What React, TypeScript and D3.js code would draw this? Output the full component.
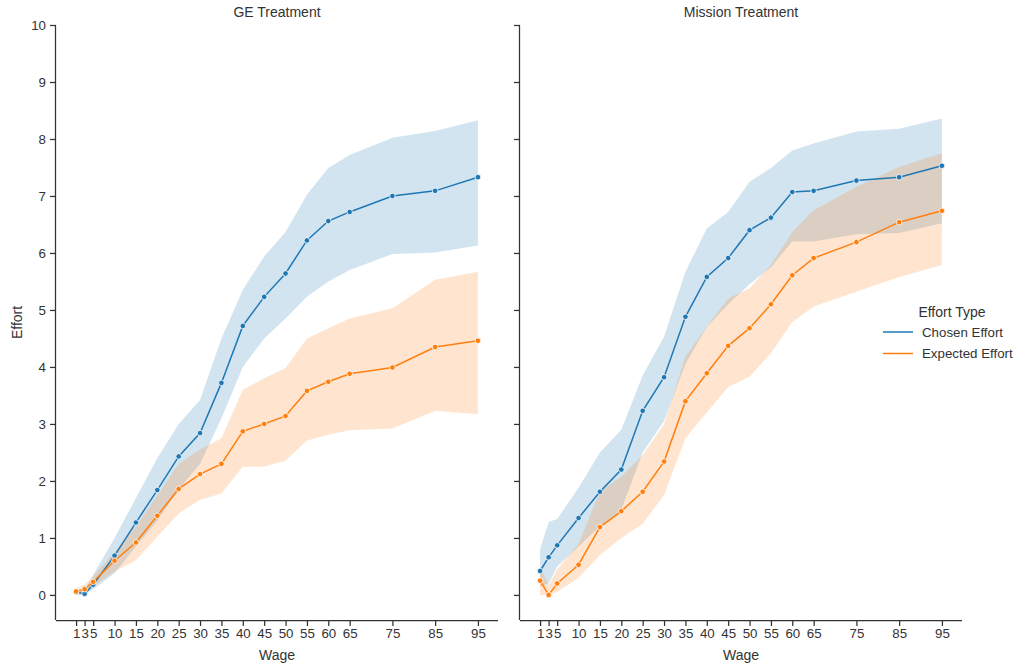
import { useRef, useEffect } from 'react';
import * as d3 from 'd3';

// wage levels (x)
const wages = [1, 3, 5, 10, 15, 20, 25, 30, 35, 40, 45, 50, 55, 60, 65, 75, 85, 95];

// GE Treatment
const geChosen = [0.05, 0.02, 0.18, 0.69, 1.27, 1.84, 2.43, 2.84, 3.72, 4.72, 5.23, 5.64, 6.22, 6.56, 6.72, 7.0, 7.09, 7.33];
const geChosenLo = [0.0, 0.0, 0.1, 0.38, 0.85, 1.3, 1.85, 2.3, 3.1, 4.0, 4.5, 4.85, 5.23, 5.5, 5.7, 5.98, 6.01, 6.13];
const geChosenHi = [0.1, 0.08, 0.35, 1.0, 1.7, 2.4, 3.0, 3.42, 4.5, 5.35, 5.94, 6.37, 7.02, 7.49, 7.72, 8.02, 8.14, 8.33];
const geExpected = [0.06, 0.1, 0.23, 0.6, 0.92, 1.39, 1.86, 2.12, 2.3, 2.87, 3.0, 3.14, 3.58, 3.74, 3.88, 3.99, 4.35, 4.46];
const geExpectedLo = [0.0, 0.02, 0.15, 0.41, 0.61, 1.02, 1.43, 1.67, 1.78, 2.25, 2.25, 2.36, 2.71, 2.81, 2.89, 2.92, 3.23, 3.17];
const geExpectedHi = [0.12, 0.18, 0.33, 0.75, 1.2, 1.75, 2.3, 2.55, 2.75, 3.6, 3.8, 3.98, 4.5, 4.68, 4.85, 5.03, 5.53, 5.67];

// Mission Treatment
const msChosen = [0.42, 0.66, 0.87, 1.35, 1.81, 2.2, 3.23, 3.82, 4.88, 5.58, 5.91, 6.4, 6.62, 7.07, 7.09, 7.27, 7.33, 7.53];
const msChosenLo = [0.15, 0.2, 0.5, 0.85, 1.2, 1.5, 2.5, 3.05, 4.05, 4.7, 5.1, 5.45, 5.75, 6.2, 6.2, 6.33, 6.35, 6.52];
const msChosenHi = [0.8, 1.28, 1.33, 1.88, 2.5, 2.9, 3.85, 4.53, 5.67, 6.43, 6.72, 7.25, 7.49, 7.8, 7.92, 8.13, 8.18, 8.36];
const msExpected = [0.25, 0.0, 0.2, 0.53, 1.19, 1.47, 1.81, 2.34, 3.4, 3.89, 4.37, 4.68, 5.1, 5.61, 5.91, 6.19, 6.54, 6.74];
const msExpectedLo = [0.0, 0.0, 0.05, 0.3, 0.7, 1.0, 1.25, 1.75, 2.75, 3.2, 3.65, 3.83, 4.24, 4.79, 5.06, 5.32, 5.58, 5.79];
const msExpectedHi = [0.5, 0.17, 0.45, 0.9, 1.81, 2.08, 2.45, 3.0, 4.18, 4.71, 5.2, 5.38, 5.79, 6.37, 6.75, 7.16, 7.51, 7.75];

const yTicks = [0, 1, 2, 3, 4, 5, 6, 7, 8, 9, 10];
const seriesNames = ['Chosen Effort', 'Expected Effort'];
const colors = ['#1f77b4', '#ff7f0e'];

const panels = [
  { title: 'GE Treatment', left: 56, showY: true,
    series: [[geChosen, geChosenLo, geChosenHi], [geExpected, geExpectedLo, geExpectedHi]] },
  { title: 'Mission Treatment', left: 520, showY: false,
    series: [[msChosen, msChosenLo, msChosenHi], [msExpected, msExpectedLo, msExpectedHi]] },
];

const W = 1023;
const H = 663;
const panelW = 442;
const top = 25;
const bottom = 620;
const font = '"Liberation Sans", Arial, sans-serif';
const ink = '#333333';

function App() {
  const ref = useRef(null);

  useEffect(() => {
    const el = ref.current;
    if (!el) return;
    const svg = d3.select(el);
    svg.selectAll('*').remove();

    const y = d3.scaleLinear().domain([-0.44, 10]).range([bottom, top]);

    panels.forEach(p => {
      const x = d3.scaleLinear().domain([-3.7, 99.7]).range([p.left, p.left + panelW]);
      const g = svg.append('g');

      // bands first
      p.series.forEach((s, i) => {
        const [, lo, hi] = s;
        const area = d3.area<number>()
          .x(d => x(wages[d]))
          .y0(d => y(lo[d]))
          .y1(d => y(hi[d]));
        g.append('path')
          .attr('d', area(d3.range(wages.length)))
          .attr('fill', colors[i])
          .attr('fill-opacity', 0.2)
          .attr('stroke', 'none');
      });

      p.series.forEach((s, i) => {
        const [mean] = s;
        const line = d3.line<number>()
          .x(d => x(wages[d]))
          .y(d => y(mean[d]));
        g.append('path')
          .attr('d', line(d3.range(wages.length)))
          .attr('fill', 'none')
          .attr('stroke', colors[i])
          .attr('stroke-width', 1.5);
        g.selectAll(null)
          .data(d3.range(wages.length))
          .enter()
          .append('circle')
          .attr('cx', d => x(wages[d]))
          .attr('cy', d => y(mean[d]))
          .attr('r', 2.8)
          .attr('fill', colors[i])
          .attr('stroke', '#fff')
          .attr('stroke-width', 0.8);
      });

      // x axis
      const xAxis = g.append('g')
        .attr('transform', `translate(0,${bottom})`)
        .call(d3.axisBottom(x).tickValues(wages).tickSize(6).tickPadding(3).tickSizeOuter(0));
      xAxis.select('.domain').attr('stroke', ink).attr('stroke-width', 1.25)
        .attr('d', `M${p.left},0.5H${p.left + panelW}`);
      xAxis.selectAll('.tick line').attr('stroke', ink).attr('stroke-width', 1.25);
      xAxis.selectAll('.tick text')
        .attr('fill', ink)
        .style('font-family', font)
        .style('font-size', '13.3px');

      // y axis
      const yAxis = g.append('g')
        .attr('transform', `translate(${p.left},0)`)
        .call(d3.axisLeft(y).tickValues(yTicks).tickSize(6).tickPadding(4).tickSizeOuter(0)
          .tickFormat(p.showY ? d3.format('d') : () => ''));
      yAxis.select('.domain').attr('stroke', ink).attr('stroke-width', 1.25)
        .attr('d', `M-0.5,${top}V${bottom}`);
      yAxis.selectAll('.tick line').attr('stroke', ink).attr('stroke-width', 1.25);
      yAxis.selectAll('.tick text')
        .attr('fill', ink)
        .style('font-family', font)
        .style('font-size', '13.3px');

      g.append('text')
        .attr('x', p.left + panelW / 2)
        .attr('y', 17)
        .attr('text-anchor', 'middle')
        .attr('fill', ink)
        .style('font-family', font)
        .style('font-size', '14px')
        .text(p.title);

      g.append('text')
        .attr('x', p.left + panelW / 2)
        .attr('y', 660)
        .attr('text-anchor', 'middle')
        .attr('fill', ink)
        .style('font-family', font)
        .style('font-size', '14px')
        .text('Wage');
    });

    svg.append('text')
      .attr('transform', `translate(22,${(top + bottom) / 2}) rotate(-90)`)
      .attr('text-anchor', 'middle')
      .attr('fill', ink)
      .style('font-family', font)
      .style('font-size', '14px')
      .text('Effort');

    // legend
    const lg = svg.append('g');
    lg.append('text')
      .attr('x', 952)
      .attr('y', 317)
      .attr('text-anchor', 'middle')
      .attr('fill', ink)
      .style('font-family', font)
      .style('font-size', '14px')
      .text('Effort Type');
    seriesNames.forEach((name, i) => {
      const ly = 332 + i * 21.5;
      lg.append('line')
        .attr('x1', 883).attr('x2', 913)
        .attr('y1', ly).attr('y2', ly)
        .attr('stroke', colors[i])
        .attr('stroke-width', 1.5);
      lg.append('text')
        .attr('x', 922)
        .attr('y', ly + 4.5)
        .attr('fill', ink)
        .style('font-family', font)
        .style('font-size', '13.3px')
        .text(name);
    });
  }, []);

  return (
    <svg
      ref={ref}
      width={W}
      height={H}
      style={{ position: 'absolute', left: 0, top: 0, background: '#fff' }}
    />
  );
}

export default App;
